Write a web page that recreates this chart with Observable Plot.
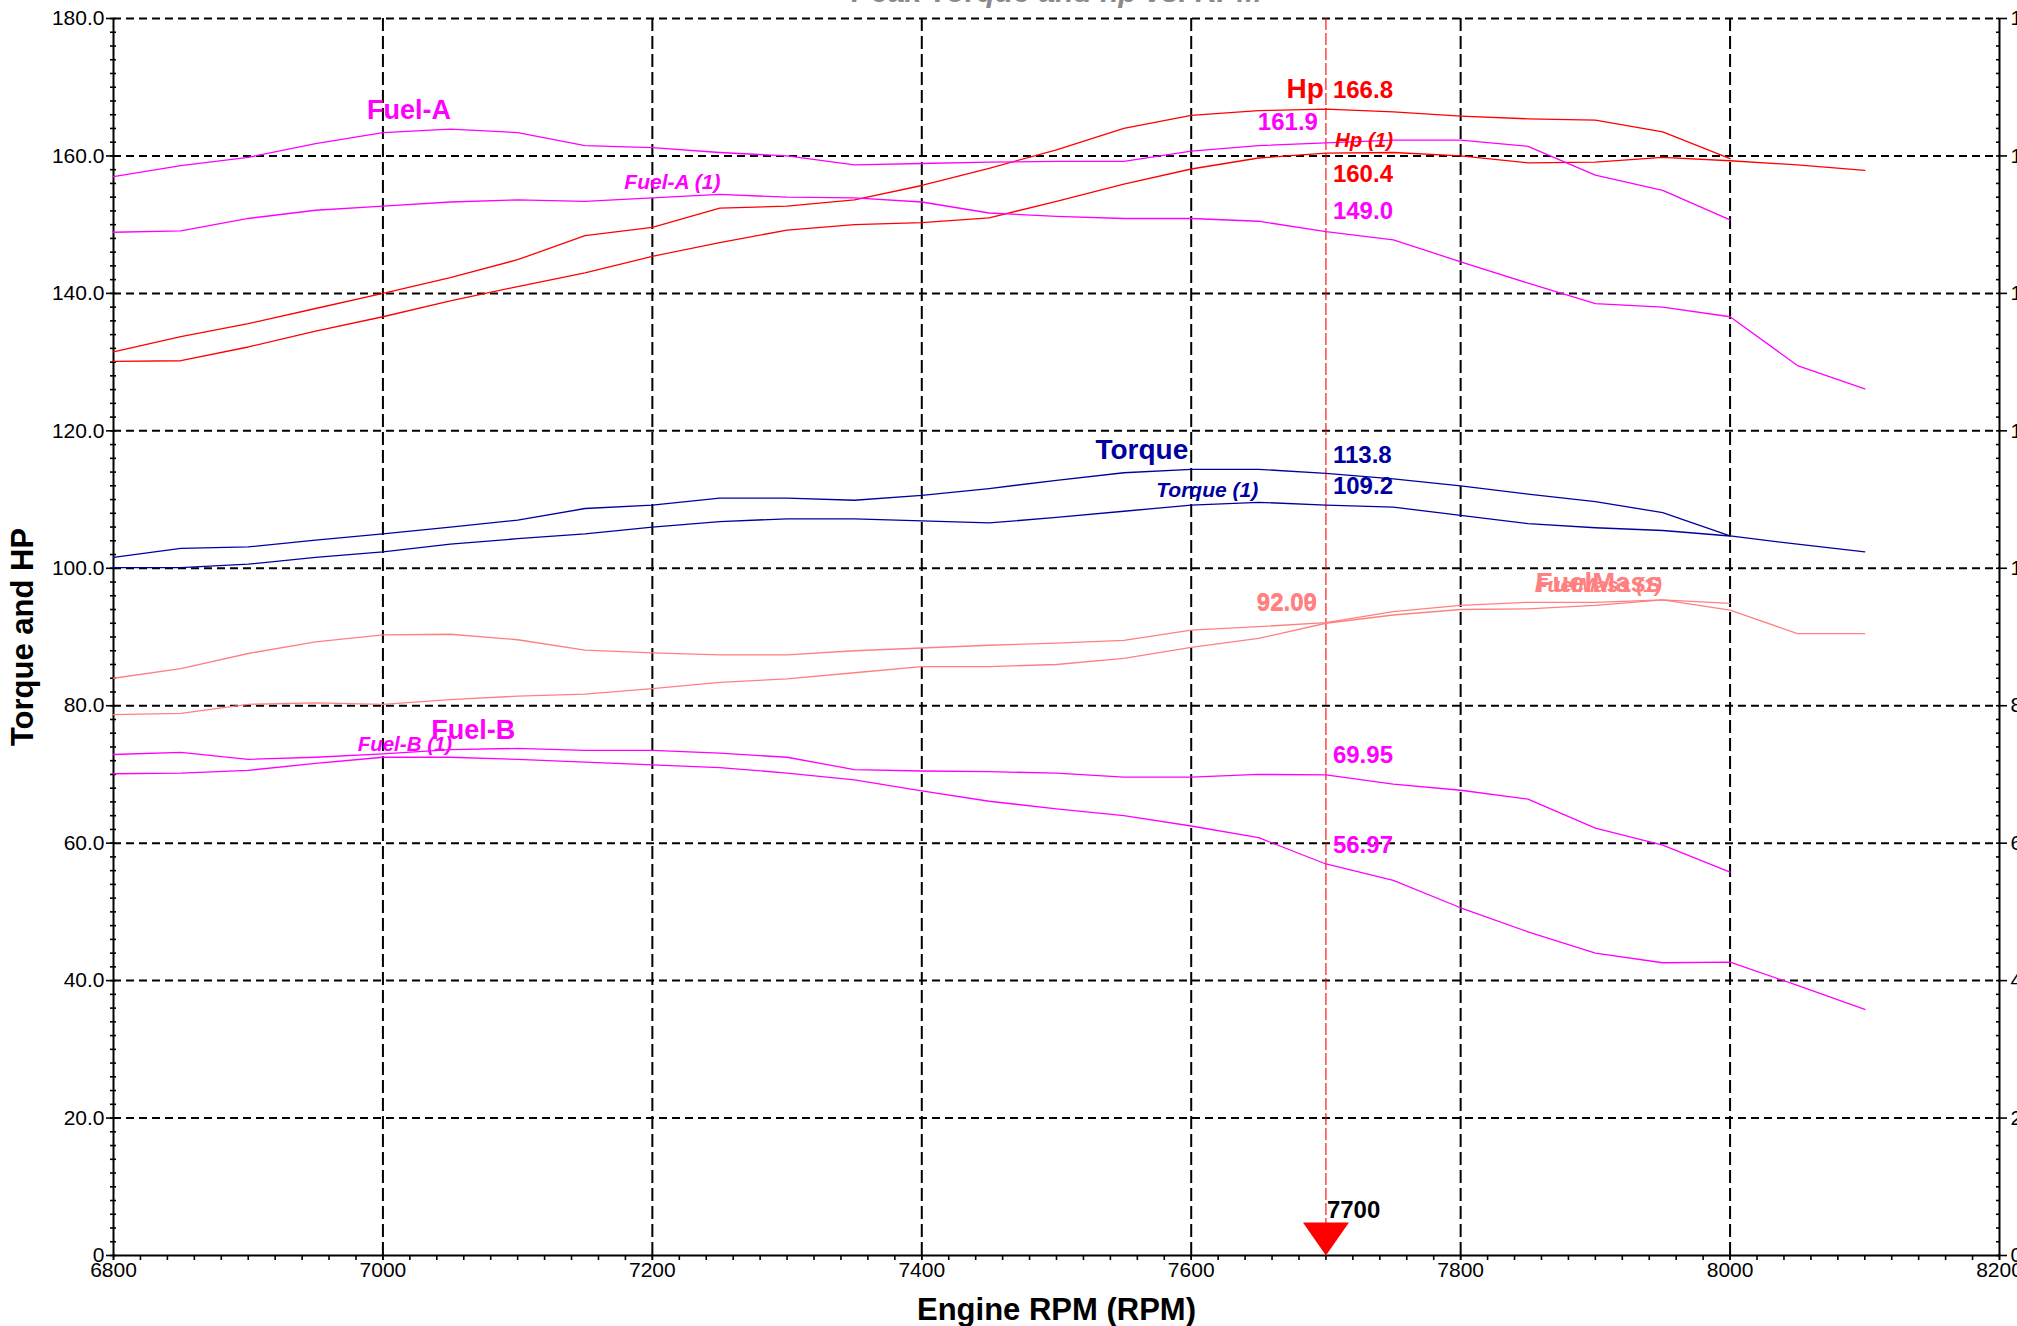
<!DOCTYPE html>
<html>
<head>
<meta charset="utf-8">
<script src="https://cdn.jsdelivr.net/npm/d3@7"></script>
<script src="https://cdn.jsdelivr.net/npm/@observablehq/plot@0.6"></script>
<style>
  html, body { margin: 0; padding: 0; background: #fff; }
  #chart svg { display: block; }
</style>
</head>
<body>
<div id="chart"></div>
<script>
// ---- data ----
const rpm = [6800, 6850, 6900, 6950, 7000, 7050, 7100, 7150, 7200, 7250, 7300, 7350, 7400, 7450,
             7500, 7550, 7600, 7650, 7700, 7750, 7800, 7850, 7900, 7950, 8000, 8050, 8100];

const hp       = [131.5, 133.7, 135.6, 137.8, 140.0, 142.3, 144.9, 148.4, 149.6, 152.4, 152.7, 153.6, 155.7, 158.2,
                  160.9, 164.0, 165.9, 166.6, 166.8, 166.4, 165.8, 165.4, 165.2, 163.5, 159.6];
const hp1      = [130.1, 130.2, 132.2, 134.5, 136.6, 138.9, 141.0, 143.0, 145.4, 147.4, 149.2, 150.0, 150.3, 151.0,
                  153.4, 155.9, 158.1, 159.7, 160.4, 160.5, 160.0, 159.0, 159.1, 159.8, 159.3, 158.7, 157.9];
const fuelA    = [157.0, 158.6, 159.8, 161.8, 163.4, 163.9, 163.4, 161.5, 161.2, 160.5, 160.0, 158.7, 158.9, 159.1,
                  159.2, 159.2, 160.7, 161.5, 161.9, 162.3, 162.3, 161.4, 157.2, 155.0, 150.7];
const fuelA1   = [148.9, 149.1, 150.9, 152.1, 152.7, 153.3, 153.6, 153.4, 153.9, 154.4, 154.0, 153.9, 153.3, 151.7,
                  151.2, 150.9, 150.9, 150.5, 149.0, 147.8, 144.6, 141.5, 138.5, 138.0, 136.6, 129.5, 126.1];
const torque   = [101.6, 102.9, 103.1, 104.1, 105.0, 106.0, 107.0, 108.7, 109.2, 110.2, 110.2, 109.9, 110.6, 111.6,
                  112.8, 113.9, 114.4, 114.4, 113.8, 113.0, 112.0, 110.8, 109.7, 108.1, 104.7];
const torque1  = [100.1, 100.1, 100.6, 101.6, 102.4, 103.5, 104.3, 105.0, 106.0, 106.8, 107.2, 107.2, 106.9, 106.6,
                  107.4, 108.3, 109.2, 109.6, 109.2, 108.9, 107.7, 106.5, 105.9, 105.5, 104.7, 103.5, 102.4];
const fuelMass = [84.0, 85.4, 87.6, 89.3, 90.3, 90.4, 89.6, 88.1, 87.7, 87.4, 87.4, 88.0, 88.4, 88.8,
                  89.1, 89.5, 91.0, 91.5, 92.09, 93.7, 94.6, 95.05, 95.05, 95.4, 94.9];
const fuelMass1= [78.7, 78.9, 80.2, 80.4, 80.2, 80.9, 81.4, 81.7, 82.5, 83.4, 83.9, 84.8, 85.7, 85.7,
                  86.0, 86.9, 88.5, 89.8, 92.00, 93.2, 94.0, 94.1, 94.6, 95.4, 93.9, 90.5, 90.5];
const fuelB    = [72.9, 73.2, 72.2, 72.5, 73.0, 73.6, 73.8, 73.5, 73.5, 73.1, 72.5, 70.7, 70.5, 70.4,
                  70.2, 69.6, 69.6, 70.0, 69.95, 68.6, 67.7, 66.4, 62.2, 59.7, 55.8];
const fuelB1   = [70.1, 70.2, 70.6, 71.6, 72.5, 72.5, 72.2, 71.8, 71.4, 71.0, 70.2, 69.2, 67.6, 66.1,
                  65.0, 64.0, 62.5, 60.8, 56.97, 54.6, 50.6, 47.1, 44.0, 42.6, 42.7, 39.3, 35.8];

const cursorRpm = 7700;
const xTicks = [6800, 7000, 7200, 7400, 7600, 7800, 8000, 8200];
const yTicks = [0, 20, 40, 60, 80, 100, 120, 140, 160, 180];
const titleText = "Peak Torque and hp vs. RPM";
const xLabel = "Engine RPM (RPM)";
const yLabel = "Torque and HP";

// ---- helpers ----
const FONT = "'Liberation Sans Narrow', 'Arial Narrow', 'Liberation Sans', Arial, sans-serif";
const RED = "#ff0000", MAG = "#ff00ff", NAVY = "#0000a0", SALMON = "#ff8080";
const rows = (name, values) => values.map((v, i) => ({rpm: rpm[i], value: v, series: name}));
const at = (values, r) => values[rpm.indexOf(r)];
const pt = (values, r) => [{rpm: r, value: at(values, r)}];
const xMinor = d3.range(6800, 8200 + 1, 20);
const yMinor = d3.range(0, 180 + 0.1, 2);
const yFmt = d => d === 0 ? "0" : d.toFixed(1);

const series = [
  {name: "Hp", values: hp, color: RED},
  {name: "Hp (1)", values: hp1, color: RED},
  {name: "Fuel-A", values: fuelA, color: MAG},
  {name: "Fuel-A (1)", values: fuelA1, color: MAG},
  {name: "Torque", values: torque, color: NAVY},
  {name: "Torque (1)", values: torque1, color: NAVY},
  {name: "FuelMass", values: fuelMass, color: SALMON},
  {name: "FuelMass (1)", values: fuelMass1, color: SALMON},
  {name: "Fuel-B", values: fuelB, color: MAG},
  {name: "Fuel-B (1)", values: fuelB1, color: MAG}
];

// text label helper: anchored on a series value at an rpm, offset in pixels
function lab(text, values, r, color, {dx = 0, dy = 0, anchor = "middle", size = 28, italic = false} = {}) {
  return Plot.text(pt(values, r), {
    x: "rpm", y: "value", text: () => text, fill: color,
    dx, dy, textAnchor: anchor, lineAnchor: "middle",
    fontSize: size, fontWeight: "bold", fontStyle: italic ? "italic" : "normal",
    fontFamily: FONT
  });
}
function readout(values, color, digits, {dx = 7, dy = -19, anchor = "start"} = {}) {
  return lab(at(values, cursorRpm).toFixed(digits), values, cursorRpm, color, {dx, dy, anchor, size: 24});
}

// custom downward triangle with its tip at the anchor point
const downTriangle = {
  draw(context) {
    context.moveTo(0, 0);
    context.lineTo(-23, -33);
    context.lineTo(23, -33);
    context.closePath();
  }
};

const chart = Plot.plot({
  width: 2017,
  height: 1326,
  marginLeft: 113,
  marginRight: 18,
  marginTop: 18,
  marginBottom: 71,
  style: {fontFamily: FONT, background: "#fff", overflow: "hidden"},
  x: {domain: [6800, 8200], axis: null},
  y: {domain: [0, 180], axis: null},
  marks: [
    // grid
    Plot.gridY(yTicks.filter(d => d > 0), {stroke: "#000", strokeOpacity: 1, strokeWidth: 2, strokeDasharray: "8,5"}),
    Plot.gridX(xTicks.filter(d => d > 6800 && d < 8200), {stroke: "#000", strokeOpacity: 1, strokeWidth: 2, strokeDasharray: "13,5"}),

    // axis lines
    Plot.ruleX([6800], {stroke: "#000", strokeWidth: 2}),
    Plot.ruleX([8200], {stroke: "#000", strokeWidth: 2}),
    Plot.ruleY([0], {stroke: "#000", strokeWidth: 2}),

    // x axis ticks & labels
    Plot.axisX(xMinor, {tickSize: 5, strokeWidth: 1.6, tickFormat: () => "", label: null}),
    Plot.axisX(xTicks, {tickSize: 5, strokeWidth: 1.6, tickPadding: 2, tickFormat: d => String(d),
      fontSize: 21, fontFamily: FONT, fill: "#000", label: null}),

    // left y axis
    Plot.axisY(yMinor, {tickSize: 6, dx: 3, strokeWidth: 1.6, tickFormat: () => "", label: null}),
    Plot.axisY(yTicks, {tickSize: 7, strokeWidth: 1.6, tickPadding: 2, tickFormat: yFmt,
      fontSize: 21, fontFamily: FONT, fill: "#000", label: null}),

    // right y axis (labels run off the edge)
    Plot.axisY(yMinor, {anchor: "right", tickSize: 4, dx: -4, strokeWidth: 1.6, tickFormat: () => "", label: null}),
    Plot.axisY(yTicks, {anchor: "right", tickSize: 7, strokeWidth: 1.6, tickPadding: 4, tickFormat: yFmt,
      fontSize: 21, fontFamily: FONT, fill: "#000", label: null}),

    // cursor
    Plot.ruleX([cursorRpm], {stroke: RED, strokeWidth: 1.1, strokeDasharray: "12,3"}),

    // series lines
    ...series.map(s => Plot.line(rows(s.name, s.values), {x: "rpm", y: "value", stroke: s.color, strokeWidth: 1.3})),

    // series name labels
    lab("Fuel-A", fuelA, 7000, MAG, {dx: 26, dy: -22, size: 27}),
    lab("Fuel-A (1)", fuelA1, 7200, MAG, {dx: 20, dy: -16, size: 21, italic: true}),
    lab("Hp", hp, cursorRpm, RED, {dx: -2, dy: -20, anchor: "end", size: 28}),
    lab("Hp (1)", hp1, cursorRpm, RED, {dx: 9, dy: -13, anchor: "start", size: 20.5, italic: true}),
    lab("Torque", torque, 7600, NAVY, {dx: -3, dy: -19, anchor: "end", size: 28}),
    lab("Torque (1)", torque1, 7600, NAVY, {dx: 16, dy: -15, size: 21, italic: true}),
    lab("FuelMass", fuelMass, 7900, SALMON, {dx: 3, dy: -19, size: 27.5}),
    lab("FuelMass (1)", fuelMass, 7900, SALMON, {dx: 3, dy: -17, size: 21, italic: true}),
    lab("Fuel-B", fuelB, 7050, MAG, {dx: 23, dy: -19, size: 27}),
    lab("Fuel-B (1)", fuelB1, 7000, MAG, {dx: 22, dy: -13, size: 20.5, italic: true}),

    // cursor readouts
    readout(hp, RED, 1, {dy: -19}),
    readout(fuelA, MAG, 1, {dx: -8, dy: -21, anchor: "end"}),
    readout(hp1, RED, 1, {dy: 21}),
    readout(fuelA1, MAG, 1, {dy: -20}),
    readout(torque, NAVY, 1, {dy: -18.5}),
    readout(torque1, NAVY, 1, {dy: -18.5}),
    readout(fuelMass, SALMON, 2, {dx: -9, dy: -20, anchor: "end"}),
    readout(fuelMass1, SALMON, 2, {dx: -9, dy: -20, anchor: "end"}),
    readout(fuelB, MAG, 2, {dy: -19}),
    readout(fuelB1, MAG, 2, {dy: -18.5}),

    // cursor marker and value
    Plot.dot([cursorRpm], {x: d => d, y: () => 0, symbol: downTriangle, fill: RED, stroke: "none", r: 10}),
    Plot.text([cursorRpm], {x: d => d, y: () => 0, text: d => String(d), dx: 1, dy: -45, textAnchor: "start",
      lineAnchor: "middle", fontSize: 24, fontWeight: "bold", fontFamily: FONT, fill: "#000"}),

    // titles
    Plot.text([titleText], {frameAnchor: "top", text: d => d, dy: -26, lineAnchor: "middle",
      fontSize: 30, fontWeight: "bold", fontStyle: "italic", fill: "#8a8a8a", fontFamily: FONT}),
    Plot.text([xLabel], {frameAnchor: "bottom", text: d => d, dy: 55, lineAnchor: "middle",
      fontSize: 31, fontWeight: "bold", fill: "#000", fontFamily: FONT}),
    Plot.text([yLabel], {frameAnchor: "left", text: d => d, dx: -90, rotate: -90, textAnchor: "middle",
      lineAnchor: "middle", fontSize: 31, fontWeight: "bold", fill: "#000", fontFamily: FONT})
  ]
});
document.getElementById("chart").appendChild(chart);
</script>
</body>
</html>
